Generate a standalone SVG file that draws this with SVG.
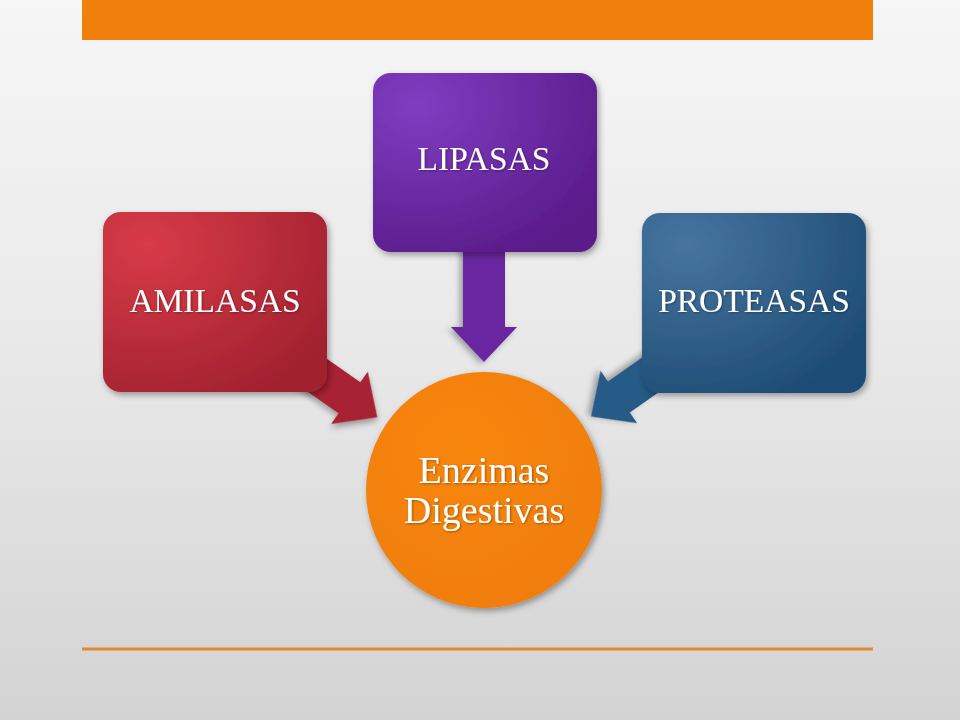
<svg xmlns="http://www.w3.org/2000/svg" width="960" height="720" viewBox="0 0 960 720">
  <defs>
    <linearGradient id="bg" x1="0" y1="0" x2="0" y2="1">
      <stop offset="0" stop-color="#f6f6f6"/>
      <stop offset="0.5" stop-color="#e8e8e8"/>
      <stop offset="1" stop-color="#d3d3d3"/>
    </linearGradient>
    <radialGradient id="gRed" cx="0.2" cy="0.18" r="0.95">
      <stop offset="0" stop-color="#d83a48"/>
      <stop offset="1" stop-color="#a1222f"/>
    </radialGradient>
    <radialGradient id="gPurple" cx="0.2" cy="0.18" r="0.95">
      <stop offset="0" stop-color="#7f3dc1"/>
      <stop offset="1" stop-color="#5a1b89"/>
    </radialGradient>
    <radialGradient id="gBlue" cx="0.2" cy="0.18" r="0.95">
      <stop offset="0" stop-color="#46759f"/>
      <stop offset="1" stop-color="#1d4c74"/>
    </radialGradient>
    <radialGradient id="gOrange" cx="0.4" cy="0.35" r="0.8">
      <stop offset="0" stop-color="#f7860f"/>
      <stop offset="1" stop-color="#ef7c0c"/>
    </radialGradient>
    <filter id="shadow" x="-20%" y="-20%" width="140%" height="150%">
      <feDropShadow dx="2" dy="3" stdDeviation="3" flood-color="#000" flood-opacity="0.35"/>
    </filter>
    <filter id="tshadow" x="-10%" y="-20%" width="120%" height="150%">
      <feDropShadow dx="1" dy="1" stdDeviation="1" flood-color="#000" flood-opacity="0.35"/>
    </filter>
  </defs>
  <style>
    .lbl { font-family: "Liberation Serif", "Times New Roman", serif; fill: #ffffff; text-anchor: middle; }
    .box { font-size: 33.5px; }
    .core { font-size: 38px; }
    .arrow { filter: url(#shadow); }
  </style>

  <rect x="0" y="0" width="960" height="720" fill="url(#bg)"/>
  <rect x="82" y="0" width="791" height="40" fill="#f07f0b"/>
  <line x1="82" y1="649" x2="873" y2="649" stroke="#e3892f" stroke-width="3"/>

  <g id="connectors">
    <polygon class="arrow" fill="#a72432" points="0,0 -34,-32 -34,-19 -120,-19 -120,19 -34,19 -34,32" transform="translate(377.3,417.3) rotate(35)"/>
    <polygon class="arrow" fill="#6a27a0" points="0,0 -35,-33 -35,-21 -120,-21 -120,21 -35,21 -35,33" transform="translate(484,362) rotate(90)"/>
    <polygon class="arrow" fill="#255a87" points="0,0 -34,-32 -34,-19 -120,-19 -120,19 -34,19 -34,32" transform="translate(591,416.5) rotate(145)"/>
  </g>

  <g id="amilasas">
    <rect x="103" y="212" width="224" height="180" rx="18" fill="url(#gRed)" filter="url(#shadow)"/>
    <text class="lbl box" x="215" y="312" filter="url(#tshadow)">AMILASAS</text>
  </g>

  <g id="lipasas">
    <rect x="373" y="73" width="224" height="179" rx="18" fill="url(#gPurple)" filter="url(#shadow)"/>
    <text class="lbl box" x="484" y="170" filter="url(#tshadow)">LIPASAS</text>
  </g>

  <g id="proteasas">
    <rect x="642" y="213" width="224" height="180" rx="18" fill="url(#gBlue)" filter="url(#shadow)"/>
    <text class="lbl box" x="754" y="312" filter="url(#tshadow)">PROTEASAS</text>
  </g>

  <g id="enzimas">
    <circle cx="484" cy="490" r="118" fill="url(#gOrange)" filter="url(#shadow)"/>
    <text class="lbl core" x="484" y="483" filter="url(#tshadow)">Enzimas</text>
    <text class="lbl core" x="484" y="523" filter="url(#tshadow)">Digestivas</text>
  </g>
</svg>
